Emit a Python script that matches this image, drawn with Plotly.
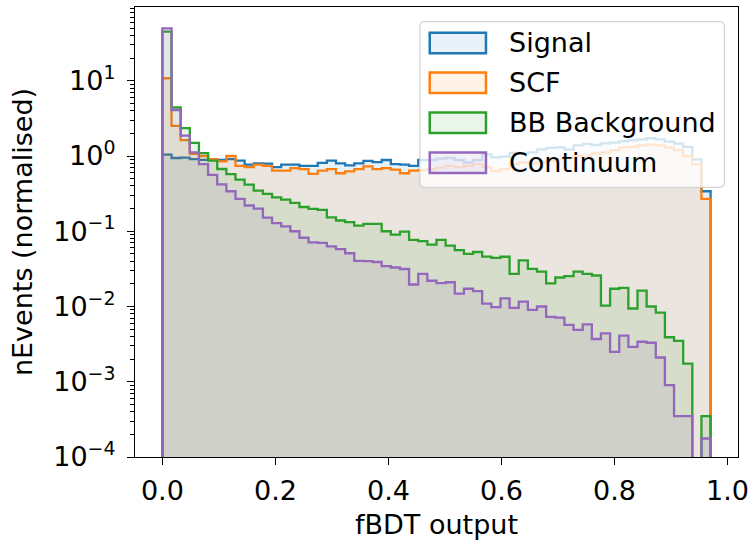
import numpy as np
import plotly.graph_objects as go

# ---- data (60 bins from 0 to 0.97) ----
bin_lo = 0.0
bin_hi = 0.97
n_bins = 60

signal = [1.04, 0.94, 0.95, 0.91, 0.89, 0.89, 0.89, 0.91, 0.87, 0.77,
          0.80, 0.79, 0.71, 0.77, 0.77, 0.74, 0.74, 0.81, 0.87, 0.80,
          0.75, 0.80, 0.86, 0.83, 0.885, 0.78, 0.77, 0.74, 0.885, 0.885,
          0.92, 0.94, 0.885, 0.82, 0.885, 1.05, 0.96, 0.98, 1.10, 1.08,
          1.12, 1.22, 1.28, 1.30, 1.22, 1.38, 1.45, 1.40, 1.47, 1.51,
          1.58, 1.62, 1.66, 1.72, 1.66, 1.55, 1.46, 1.32, 0.90, 0.34]

scf = [10.8, 2.52, 1.63, 1.07, 1.00, 0.91, 0.85, 1.00, 0.74, 0.71,
       0.77, 0.74, 0.64, 0.64, 0.69, 0.67, 0.58, 0.64, 0.67, 0.59,
       0.625, 0.67, 0.73, 0.67, 0.69, 0.66, 0.59, 0.64, 0.65, 0.67,
       0.70, 0.74, 0.71, 0.74, 0.78, 0.71, 0.63, 0.67, 0.78, 0.82,
       0.80, 0.82, 0.86, 0.90, 0.95, 1.00, 1.02, 1.08, 1.12, 1.20,
       1.30, 1.32, 1.38, 1.42, 1.38, 1.30, 1.20, 1.00, 0.78, 0.27]

bb_background = [45.0, 4.41, 2.35, 1.49, 1.09, 0.867, 0.672, 0.576, 0.485, 0.416,
                 0.347, 0.313, 0.282, 0.263, 0.238, 0.21, 0.198, 0.192, 0.153, 0.139,
                 0.132, 0.119, 0.125, 0.125, 0.100, 0.090, 0.099, 0.077, 0.074, 0.0666,
                 0.077, 0.0645, 0.056, 0.050, 0.053, 0.0461, 0.0443, 0.0458, 0.0272, 0.041,
                 0.0317, 0.029, 0.0203, 0.0243, 0.0254, 0.029, 0.0272, 0.0258, 0.0103, 0.0172,
                 0.0177, 0.0094, 0.0163, 0.0100, 0.0083, 0.0039, 0.0035, 0.00174, 0.0, 0.00035]

continuum = [49.8, 4.07, 1.86, 1.12, 0.78, 0.56, 0.42, 0.34, 0.27, 0.22,
             0.20, 0.152, 0.128, 0.116, 0.100, 0.082, 0.071, 0.070, 0.063, 0.058,
             0.051, 0.0405, 0.0400, 0.0390, 0.0345, 0.0330, 0.0315, 0.0196, 0.0272, 0.0220,
             0.0205, 0.021, 0.0148, 0.0172, 0.0160, 0.0109, 0.0098, 0.0128, 0.0096, 0.0116,
             0.0090, 0.0100, 0.0073, 0.0071, 0.0057, 0.0049, 0.0058, 0.0037, 0.0044, 0.0025,
             0.0041, 0.0029, 0.0034, 0.0033, 0.0021, 0.0009, 0.00035, 0.00035, 0.0, 0.000176]

series_names = ["Signal", "SCF", "BB Background", "Continuum"]
series_values = [signal, scf, bb_background, continuum]
series_colors = [(31, 119, 180), (255, 127, 14), (44, 160, 44), (148, 103, 189)]

x_ticks = [0.0, 0.2, 0.4, 0.6, 0.8, 1.0]
x_ticklabels = ["0.0", "0.2", "0.4", "0.6", "0.8", "1.0"]
y_ticks = [1e-4, 1e-3, 1e-2, 1e-1, 1e0, 1e1]
y_ticklabels = ["10<sup>−4</sup>", "10<sup>−3</sup>", "10<sup>−2</sup>",
                "10<sup>−1</sup>", "10<sup>0</sup>", "10<sup>1</sup>"]

# ---- figure geometry ----
W, H = 755, 545
ML, MR, MT, MB = 135, 13, 6, 88
PW, PH = W - ML - MR, H - MT - MB
FONT = "DejaVu Sans"
FS = 27


def px(xp):
    return (xp - ML) / PW


def py(yp):
    return (MT + PH - yp) / PH


edges = np.linspace(bin_lo, bin_hi, n_bins + 1)
floor = 1e-12

fig = go.Figure()
for name, vals, c in zip(series_names, series_values, series_colors):
    v = np.array(vals, dtype=float)
    v = np.where(v > 0, v, floor)
    xs = np.concatenate([[edges[0]], edges[:-1], [edges[-1]]])
    ys = np.concatenate([[floor], v, [floor]])
    fig.add_trace(go.Scatter(
        x=xs, y=ys, mode="lines", name=name,
        line=dict(shape="hv", color="rgb(%d,%d,%d)" % c, width=2.3),
        fill="toself", fillcolor="rgba(%d,%d,%d,0.1)" % c,
        showlegend=False, hoverinfo="skip",
    ))

# minor ticks for log axis
minor_vals = [k * 10.0 ** e for e in range(-4, 2) for k in range(2, 10)]

fig.update_layout(
    width=W, height=H,
    margin=dict(l=ML, r=MR, t=MT, b=MB, pad=0),
    paper_bgcolor="white", plot_bgcolor="white",
    font=dict(family=FONT, size=FS, color="black"),
    xaxis=dict(
        range=[-0.0485, 1.0185], tickvals=x_ticks, ticktext=x_ticklabels,
        ticks="outside", ticklen=7, tickwidth=1.3, tickcolor="black",
        showline=True, mirror=True, linecolor="black", linewidth=1.3,
        showgrid=False, zeroline=False,
        title=dict(text="fBDT output", font=dict(size=FS), standoff=10),
        tickfont=dict(size=FS), ticklabelstandoff=2,
    ),
    yaxis=dict(
        type="log", range=[-4, 1.98], tickvals=y_ticks, ticktext=y_ticklabels,
        ticks="outside", ticklen=7, tickwidth=1.3, tickcolor="black",
        minor=dict(tickvals=minor_vals, ticks="outside", ticklen=4,
                   tickwidth=1, tickcolor="black"),
        showline=True, mirror=True, linecolor="black", linewidth=1.3,
        showgrid=False, zeroline=False,
        title=dict(text="nEvents (normalised)", font=dict(size=FS), standoff=12),
        tickfont=dict(size=FS), ticklabelstandoff=6,
    ),
)

# ---- legend (matplotlib style box) ----
bx0, bx1, by0, by1 = 421.7, 728.3, 20.7, 186.7
r = 5.0
rx, ry = r / PW, r / PH
X0, X1, Y0, Y1 = px(bx0), px(bx1), py(by1), py(by0)
path = (f"M {X0+rx},{Y0} L {X1-rx},{Y0} Q {X1},{Y0} {X1},{Y0+ry} "
        f"L {X1},{Y1-ry} Q {X1},{Y1} {X1-rx},{Y1} L {X0+rx},{Y1} "
        f"Q {X0},{Y1} {X0},{Y1-ry} L {X0},{Y0+ry} Q {X0},{Y0} {X0+rx},{Y0} Z")
shapes = [dict(type="path", path=path, xref="paper", yref="paper",
               fillcolor="rgba(255,255,255,0.8)",
               line=dict(color="rgba(204,204,204,0.8)", width=1.3), layer="above")]
annotations = []
row_centers = [42, 82, 122, 162]
for name, c, yc in zip(series_names, series_colors, row_centers):
    shapes.append(dict(type="rect", xref="paper", yref="paper",
                       x0=px(431.7), x1=px(488.3), y0=py(yc + 10.3), y1=py(yc - 10.3),
                       fillcolor="rgba(%d,%d,%d,0.1)" % c,
                       line=dict(color="rgb(%d,%d,%d)" % c, width=2.5), layer="above"))
    annotations.append(dict(text=name, xref="paper", yref="paper",
                            x=px(509), y=py(yc), xanchor="left", yanchor="middle",
                            showarrow=False, font=dict(family=FONT, size=FS, color="black")))

fig.update_layout(shapes=shapes, annotations=annotations)

fig.write_html("out.html")
